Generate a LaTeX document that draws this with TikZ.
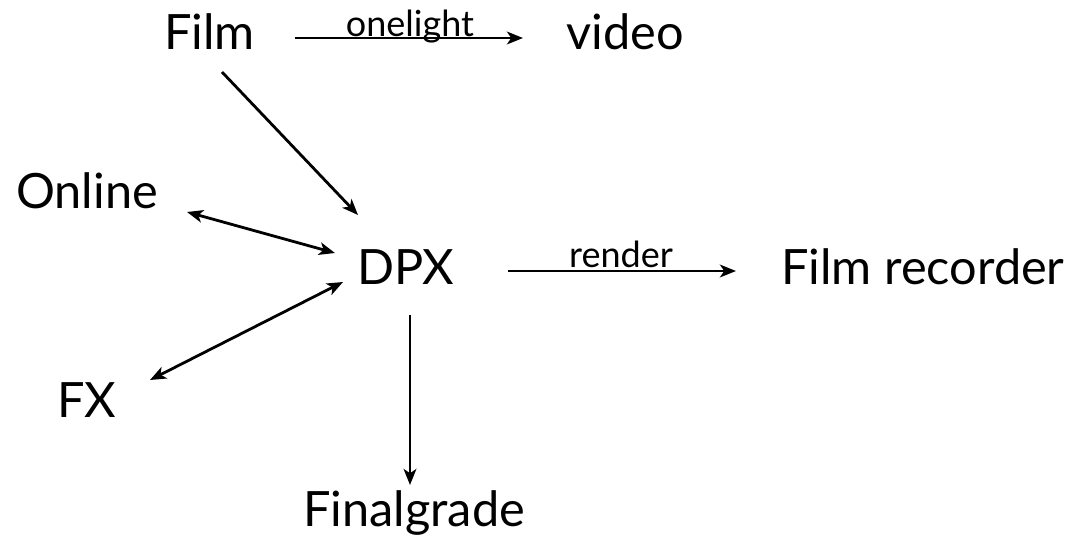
\documentclass[tikz,border=0pt]{standalone}
\usepackage{fontspec}
\setmainfont{Lato}
\usetikzlibrary{arrows.meta,calc}
\begin{document}
\begin{tikzpicture}[x=0.75pt,y=-0.75pt,
  lbl/.style={inner sep=0pt,anchor=base west,font=\fontsize{36.5pt}{40pt}\selectfont},
  small/.style={inner sep=0pt,anchor=base,font=\fontsize{27pt}{30pt}\selectfont},
  tip/.tip={Stealth[length=12pt,width=9.5pt,inset=3.2pt]},
  arr/.style={line width=2.1pt,-tip},
  darr/.style={line width=2.1pt,tip-tip}]
\useasboundingbox (0,0) rectangle (1085,547);
\node[lbl] (film) at (164,49) {Film};
\node[lbl] (video) at (566,49) {video};
\node[lbl] (online) at (16,208) {Online};
\node[lbl] (dpx) at (357,284) {DPX};
\node[lbl] (filmrec) at (781,284) {Film recorder};
\node[lbl] (fx) at (57,417) {FX};
\node[lbl] (final) at (303,526) {Finalgrade};
% connectors
\draw[arr] ($(film.base west)+(131,-11)$) -- ($(video.base west)+(-43,-11)$);
\node[small] (onelight) at ($(film.base west)+(246,-13)$) {onelight};
\draw[arr] ($(film.base west)+(58,23)$) -- ($(dpx.base west)+(1,-69)$);
\draw[darr] ($(online.base west)+(171,4)$) -- ($(dpx.base west)+(-22,-31)$);
\draw[darr] ($(fx.base west)+(93,-37)$) -- ($(dpx.base west)+(-14,-2)$);
\draw[arr] ($(dpx.base west)+(151,-13)$) -- ($(filmrec.base west)+(-45,-13)$);
\node[small] (render) at ($(dpx.base west)+(264,-17)$) {render};
\draw[arr] ($(dpx.base west)+(53,31)$) -- ($(final.base west)+(107,-41)$);
\end{tikzpicture}
\end{document}
